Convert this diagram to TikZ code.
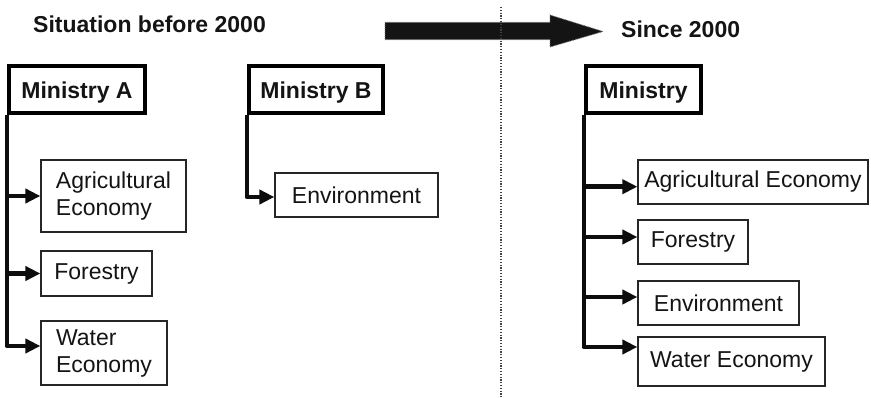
\documentclass[tikz,border=0pt]{standalone}
\usepackage{fontspec}
\setmainfont{Liberation Sans}
\usetikzlibrary{arrows.meta}
\begin{document}
\begin{tikzpicture}[x=1pt,y=-1pt,
  every node/.style={font=\fontsize{23}{27}\selectfont, text=black!92},
  title/.style={font=\fontsize{23}{27}\selectfont\bfseries, anchor=base west, inner sep=0pt},
  ministry/.style={draw=black, line width=4.3pt, inner sep=0pt,
    font=\fontsize{23}{27}\selectfont\bfseries, text height=19pt, text depth=0pt,
    minimum height=47pt},
  unit/.style={draw=black!85, line width=1.2pt, inner sep=0pt, align=left},
  conn/.style={line width=4.5pt, line join=round, draw=black!95,
    -{Triangle[length=15pt,width=14pt]}},
  divider/.style={draw=black!75, line width=1.2pt, dash pattern=on 1.2pt off 1.6pt},
  bigarrow/.style={fill=black!92, draw=black!55, line width=0.8pt, dash pattern=on 1pt off 1pt}
]
\useasboundingbox (0,0) rectangle (871,398);

% headings and the transition arrow
\node[title] (before) at (33,33) {Situation before 2000};
\node[title] (since) at (621,38) {Since 2000};
\filldraw[bigarrow] (385,22.3) -- (550,22.3) -- (550,15) -- (603,31.5)
  -- (550,47) -- (550,39.7) -- (385,39.7) -- cycle;
\draw[divider] (501,7) -- (501,398);

% before 2000: Ministry A
\node[ministry, minimum width=136pt] (mA) at (77,89.5) {Ministry A};
\node[unit, minimum width=145pt, minimum height=72pt] (agA) at (113.5,196) {Agricultural\\Economy};
\node[unit, minimum width=111pt, minimum height=45pt] (foA) at (96.5,273.5) {Forestry};
\node[unit, minimum width=126pt, minimum height=64pt] (waA) at (104,353) {Water\\Economy};
\draw[conn] (mA.south west) |- ([yshift=7pt]waA.west);
\draw[conn] (mA.south west |- agA.west) -- (agA.west);
\draw[conn] (mA.south west |- foA.west) -- (foA.west);

% before 2000: Ministry B
\node[ministry, minimum width=134pt] (mB) at (316,89.5) {Ministry B};
\node[unit, minimum width=163pt, minimum height=44pt] (enB) at (356.5,195) {Environment};
\draw[conn] (mB.south west) |- ([yshift=-2pt]enB.west);

% since 2000: single ministry
\node[ministry, minimum width=115pt] (mR) at (643.5,89.5) {Ministry};
\node[unit, minimum width=230pt, minimum height=44pt] (agR) at (753,182) {Agricultural Economy};
\node[unit, minimum width=110pt, minimum height=44pt] (foR) at (693,242) {Forestry};
\node[unit, minimum width=161pt, minimum height=44pt] (enR) at (718.5,303) {Environment};
\node[unit, minimum width=187pt, minimum height=49pt] (waR) at (731.5,361.5) {Water Economy};
\draw[conn] (mR.south west) |- ([yshift=14.5pt]waR.west);
\draw[conn] (mR.south west |- agR.west) ++(0,4.7) -- ([yshift=-4.7pt]agR.west);
\draw[conn] (mR.south west |- foR.west) ++(0,-5) -- ([yshift=5pt]foR.west);
\draw[conn] (mR.south west |- enR.west) ++(0,-6) -- ([yshift=6pt]enR.west);
\end{tikzpicture}
\end{document}
